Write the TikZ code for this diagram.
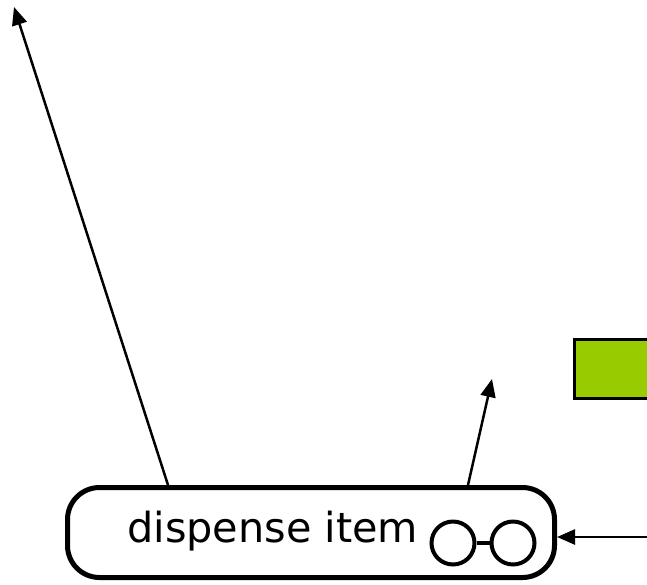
\documentclass[tikz,border=0pt]{standalone}
\usepackage{fontspec}
\setmainfont{DejaVu Sans}
\usetikzlibrary{arrows.meta, positioning, calc}
\definecolor{leafgreen}{HTML}{99CC00}
\tikzset{
  action/.style={draw=black, line width=5pt, rounded corners=32pt,
                 minimum width=487pt, minimum height=90pt, inner sep=0pt},
  lens/.style={circle, draw=black, line width=4pt,
               minimum size=43pt, inner sep=0pt},
  flow/.style={draw=black, line width=2.5pt,
               -{Triangle[length=18pt,width=15pt]}},
  block/.style={draw=black, fill=leafgreen, line width=3pt,
                minimum width=86pt, minimum height=59pt, inner sep=0pt},
}

\begin{document}
\begin{tikzpicture}[x=1pt, y=1pt]
    \clip (0,0) rectangle (647,-584);
    % action node with its label and the rake (glasses) mark
    \node[action] (dispense) at (311,-532.5) {};
    \node[anchor=base west, inner sep=0pt,
          font=\fontsize{41.4}{50}\selectfont] (label) at (127,-542) {dispense item};
    \node[lens] (lensL) at (453,-543) {};
    \node[lens] (lensR) at (513,-543) {};
    \draw[line width=4pt] (lensL.east) -- (lensR.west);
    % green block, running off the right edge
    \node[block] (green) at (617,-369) {};
    % free ends of the flows
    \coordinate (outA) at (14,-7);
    \coordinate (outB) at (492,-379);
    \coordinate (feed) at (650,-537);
    \draw[flow] ([xshift=103pt]dispense.north west) -- (outA);
    \draw[flow] ([xshift=403pt]dispense.north west) -- (outB);
    \draw[flow] (feed) -- (feed -| dispense.east);
\end{tikzpicture}
\end{document}
